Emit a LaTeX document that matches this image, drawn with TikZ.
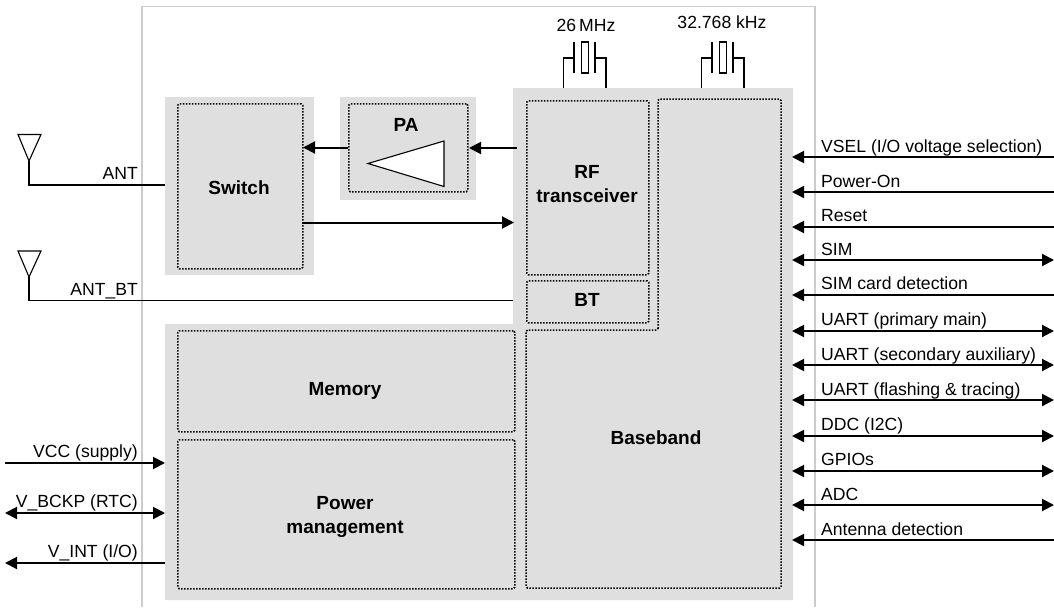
\documentclass[tikz,border=0pt]{standalone}
\usepackage{fontspec}
\setmainfont{Liberation Sans}
\usetikzlibrary{arrows.meta}
\definecolor{blockgrey}{HTML}{DFDFDF}
\definecolor{framegrey}{HTML}{CCCCCC}
\tikzset{
  dotbox/.style={draw=black, line width=1.5pt, dash pattern=on 1.5pt off 1.5pt, rounded corners=1.5pt, anchor=north west, inner sep=0pt},
  blocklabel/.style={inner sep=0pt, align=center, font=\fontsize{19}{24}\selectfont\bfseries},
  wire/.style={line width=1.1pt},
  sig/.style={line width=2pt, -{Triangle[length=12pt,width=12pt]}},
  sigboth/.style={line width=2pt, {Triangle[length=12pt,width=12pt]}-{Triangle[length=12pt,width=12pt]}},
  pin/.style={anchor=base west, inner sep=0pt, font=\fontsize{17.6}{21}\selectfont},
  pinl/.style={anchor=base east, inner sep=0pt, font=\fontsize{17.6}{21}\selectfont},
}
\begin{document}
\begin{tikzpicture}[x=1pt,y=-1pt]
\useasboundingbox (0,0) rectangle (1054,608);
\draw[framegrey, line width=1.2pt] (142,607) -- (142,6.5) -- (815,6.5) -- (815,607);
\fill[blockgrey] (165,97) rectangle (314,275);
\fill[blockgrey] (340,97) rectangle (476,200);
\fill[blockgrey] (513,88) -- (793,88) -- (793,600) -- (165,600) -- (165,324) -- (513,324) -- cycle;
\node[dotbox, minimum width=125pt, minimum height=165pt] (switch) at (177,103) {};
\node[dotbox, minimum width=119pt, minimum height=88pt] (pa) at (348,103) {};
\draw[wire, fill=white] (368,163.5) -- (444,141) -- (444,186.5) -- cycle;
\node[dotbox, minimum width=122pt, minimum height=174pt] (rf) at (526,100) {};
\node[dotbox, minimum width=122pt, minimum height=42pt] (bt) at (526,280) {};
\node[dotbox, minimum width=337pt, minimum height=101pt] (memory) at (177,330) {};
\node[dotbox, minimum width=337pt, minimum height=149pt] (power) at (177,439) {};
\draw[line width=1.5pt, dash pattern=on 1.5pt off 1.5pt, rounded corners=1.5pt] (658,330) -- (658,99) -- (781,99) -- (781,588) -- (526,588) -- (526,330) -- cycle;
\node[blocklabel] (switchlabel) at (239,188) {Switch};
\node[blocklabel] (palabel) at (406,125) {PA};
\node[blocklabel] (rflabel) at (587,184.5) {RF\\transceiver};
\node[blocklabel] (btlabel) at (587,300) {BT};
\node[blocklabel] (memorylabel) at (345,391) {Memory};
\node[blocklabel] (powerlabel) at (345,517) {Power\\management};
\node[blocklabel] (baseband) at (656,438) {Baseband};
\coordinate (ant) at (29,161);
\coordinate (antbt) at (29,277);
\draw[wire, fill=white] (18,134.5) -- (41,134.5) -- (ant) -- cycle;
\draw[wire, fill=white] (18,251) -- (41,251) -- (antbt) -- cycle;
\coordinate (antend) at (165,185);
\coordinate (antbtend) at (513,300.5);
\draw[wire] (ant) |- (antend);
\draw[wire] (antbt) |- (antbtend);
\node[pinl] (antlabel) at (138,179) {ANT};
\node[pinl] (antbtlabel) at (138,295) {ANT\_BT};
\coordinate (pain) at (517,148);
\coordinate (paout) at (469,148);
\coordinate (swin) at (348,147.5);
\coordinate (swout) at (303,147.5);
\coordinate (rxout) at (302,222.5);
\coordinate (rxin) at (514,222.5);
\draw[sig] (swin) -- (swout);
\draw[sig] (pain) -- (paout);
\draw[sig] (rxout) -- (rxin);
\coordinate (xa) at (563.7,88);
\coordinate (xb) at (606,88);
\draw[wire] (xa) -- (563.7,58) -- (574,58);
\draw[wire] (xb) -- (606,58) -- (595,58);
\draw[wire] (574,42) -- (574,73);
\draw[wire] (595,42) -- (595,73);
\draw[wire] (581.7,42) rectangle (588.7,73);
\coordinate (xc) at (701.7,88);
\coordinate (xd) at (744,88);
\draw[wire] (xc) -- (701.7,58) -- (712,58);
\draw[wire] (xd) -- (744,58) -- (733,58);
\draw[wire] (712,42) -- (712,73);
\draw[wire] (733,42) -- (733,73);
\draw[wire] (719.7,42) rectangle (726.7,73);
\node[pin, anchor=base] (xtalmhz) at (586,31) {26\,MHz};
\node[pin, anchor=base] (xtalkhz) at (722,28) {32.768 kHz};
\coordinate (vccl) at (5,463);
\coordinate (vccr) at (165,463);
\coordinate (bckpl) at (5,513);
\coordinate (bckpr) at (165,513);
\coordinate (vintl) at (5,563);
\coordinate (vintr) at (165,563);
\draw[sig] (vccl) -- (vccr);
\draw[sigboth] (bckpl) -- (bckpr);
\draw[sig] (vintr) -- (vintl);
\node[pinl] (vcclabel) at (138,457) {VCC (supply)};
\node[pinl] (bckplabel) at (138,507) {V\_BCKP (RTC)};
\node[pinl] (vintlabel) at (138,557) {V\_INT (I/O)};
\coordinate (vselr) at (1054,157);
\coordinate (vsell) at (792,157);
\coordinate (pwrr) at (1054,192);
\coordinate (pwrl) at (792,192);
\coordinate (rstr) at (1054,227);
\coordinate (rstl) at (792,227);
\coordinate (simr) at (1054,260);
\coordinate (siml) at (792,260);
\coordinate (detr) at (1054,295);
\coordinate (detl) at (792,295);
\coordinate (uartar) at (1054,331);
\coordinate (uartal) at (792,331);
\coordinate (uartbr) at (1054,365);
\coordinate (uartbl) at (792,365);
\coordinate (uartcr) at (1054,400);
\coordinate (uartcl) at (792,400);
\coordinate (ddcr) at (1054,436);
\coordinate (ddcl) at (792,436);
\coordinate (gpior) at (1054,471);
\coordinate (gpiol) at (792,471);
\coordinate (adcr) at (1054,505);
\coordinate (adcl) at (792,505);
\coordinate (andetr) at (1054,540);
\coordinate (andetl) at (792,540);
\draw[sig] (vselr) -- (vsell);
\draw[sig] (pwrr) -- (pwrl);
\draw[sig] (rstr) -- (rstl);
\draw[sigboth] (simr) -- (siml);
\draw[sig] (detr) -- (detl);
\draw[sigboth] (uartar) -- (uartal);
\draw[sigboth] (uartbr) -- (uartbl);
\draw[sigboth] (uartcr) -- (uartcl);
\draw[sigboth] (ddcr) -- (ddcl);
\draw[sigboth] (gpior) -- (gpiol);
\draw[sigboth] (adcr) -- (adcl);
\draw[sig] (andetr) -- (andetl);
\node[pin] (vsellabel) at (821,152) {VSEL (I/O voltage selection)};
\node[pin] (pwrlabel) at (821,187) {Power-On};
\node[pin] (rstlabel) at (821,221) {Reset};
\node[pin] (simlabel) at (821,255) {SIM};
\node[pin] (detlabel) at (821,289) {SIM card detection};
\node[pin] (uartalabel) at (821,325) {UART (primary main)};
\node[pin] (uartblabel) at (821,360) {UART (secondary auxiliary)};
\node[pin] (uartclabel) at (821,395) {UART (flashing \& tracing)};
\node[pin] (ddclabel) at (821,430) {DDC (I2C)};
\node[pin] (gpiolabel) at (821,465) {GPIOs};
\node[pin] (adclabel) at (821,500) {ADC};
\node[pin] (andetlabel) at (821,535) {Antenna detection};
\end{tikzpicture}
\end{document}
